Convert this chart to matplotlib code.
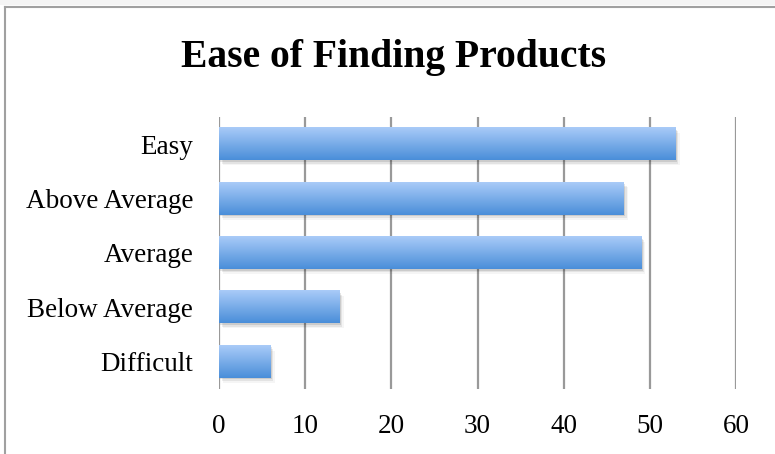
import matplotlib
matplotlib.use("Agg")
import matplotlib.pyplot as plt
import numpy as np
from matplotlib.colors import LinearSegmentedColormap
from matplotlib.patches import Rectangle
from matplotlib.lines import Line2D

categories = ["Easy", "Above Average", "Average", "Below Average", "Difficult"]
values = [53, 47, 49, 14, 6]
xticks = [0, 10, 20, 30, 40, 50, 60]
title = "Ease of Finding Products"

plt.rcParams['font.family'] = ['Liberation Serif', 'DejaVu Serif']

W, H = 775, 454
fig = plt.figure(figsize=(W/100, H/100), dpi=100)
fig.add_artist(Rectangle((0, 1-5/H), 1, 5/H, transform=fig.transFigure,
                         color='#f4f4f4', lw=0))
fig.add_artist(Line2D([4.5/W, 4.5/W], [0, 1-6.5/H], transform=fig.transFigure,
                      color='#a0a0a0', lw=1.5))
fig.add_artist(Line2D([4.5/W, 1], [1-6.5/H, 1-6.5/H], transform=fig.transFigure,
                      color='#a0a0a0', lw=1.5))

ax = fig.add_axes([219/W, 1-389/H, (736-219)/W, (389-117)/H])

ypos = np.arange(len(categories))
bars = ax.barh(ypos, values, height=0.59, color='none', zorder=3)

cmap = LinearSegmentedColormap.from_list('g', ['#4a8ed9', '#a9cbf8'])
grad = np.linspace(0, 1, 100).reshape(-1, 1)
for b in bars:
    x0, y0, w, h = b.get_x(), b.get_y(), b.get_width(), b.get_height()
    for k, a in enumerate([0.10, 0.07, 0.04]):
        ax.add_patch(Rectangle((x0 + 0.15*(k+1), y0 + 0.03*(k+1)), w, h,
                               color='black', alpha=a, lw=0, zorder=2))
    ax.imshow(grad, cmap=cmap, aspect='auto', extent=(x0, x0+w, y0+h, y0),
              origin='lower', zorder=3)
ax.set_ylim(len(categories)-0.5, -0.5)
ax.set_xlim(0, 60)

ax.set_xticks(xticks)
ax.set_xticklabels([str(t) for t in xticks], fontsize=19.5)
ax.set_yticks(ypos)
ax.set_yticklabels(categories, fontsize=19.5)
ax.tick_params(length=0, pad=18.5, axis='y')
ax.tick_params(length=0, pad=18, axis='x')
ax.xaxis.grid(True, color='#999999', lw=1.6, zorder=1)
ax.set_axisbelow(True)
for s in ax.spines.values():
    s.set_visible(False)

fig.text(394/W, 1-57/H, title, ha='center', va='center', fontsize=28.5, fontweight='bold')
fig.savefig('out.png', dpi=100)
